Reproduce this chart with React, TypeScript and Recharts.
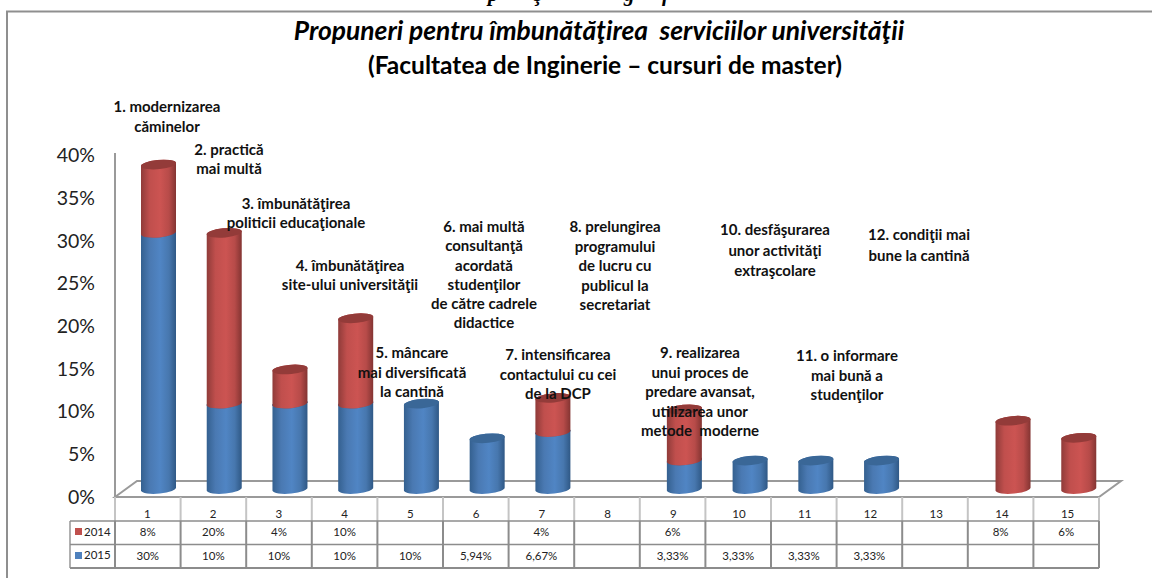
import { BarChart, Bar, XAxis, YAxis } from 'recharts'

const categories = ['1', '2', '3', '4', '5', '6', '7', '8', '9', '10', '11', '12', '13', '14', '15']
const values2014 = [8, 20, 4, 10, null, null, 4, null, 6, null, null, null, null, 8, 6]
const values2015 = [30, 10, 10, 10, 10, 5.94, 6.67, null, 3.33, 3.33, 3.33, 3.33, null, null, null]
const yTicks = [0, 5, 10, 15, 20, 25, 30, 35, 40]

const notes = [
  { lines: ['1. modernizarea', 'căminelor'], cx: 167, top: 96, lh: 20 },
  { lines: ['2. practică', 'mai multă'], cx: 229, top: 140, lh: 19 },
  { lines: ['3. îmbunătăţirea', 'politicii educaţionale'], cx: 296, top: 194, lh: 19 },
  { lines: ['4. îmbunătăţirea', 'site-ului universităţii'], cx: 350, top: 256, lh: 19 },
  { lines: ['5. mâncare', 'mai diversificată', 'la cantină'], cx: 412, top: 343, lh: 19.5 },
  { lines: ['6. mai multă', 'consultanţă', 'acordată', 'studenţilor', 'de către cadrele', 'didactice'], cx: 484, top: 217, lh: 19.3 },
  { lines: ['7. intensificarea', 'contactului cu cei', 'de la DCP'], cx: 558, top: 345, lh: 19.5 },
  { lines: ['8. prelungirea', 'programului', 'de lucru cu', 'publicul la', 'secretariat'], cx: 615, top: 217, lh: 19.5 },
  { lines: ['9. realizarea', 'unui proces de', 'predare avansat,', 'utilizarea unor', 'metode  moderne'], cx: 700, top: 343, lh: 19.5 },
  { lines: ['10. desfăşurarea', 'unor activităţi', 'extraşcolare'], cx: 775, top: 219, lh: 20.5 },
  { lines: ['11. o informare', 'mai bună a', 'studenţilor'], cx: 847, top: 346, lh: 19.5 },
  { lines: ['12. condiţii mai', 'bune la cantină'], cx: 919, top: 224, lh: 20.5 },
]

const chartData = categories.map((c, i) => ({ name: c, y2014: values2014[i], y2015: values2015[i] }))

const FONT = 'Lato, "Open Sans", sans-serif'
const TABLE_LEFT = 115
const COL_W = 65.6
const GRID = '#8c8c8c'

const fmt = (v: number | null) => (v == null ? '' : `${String(v).replace('.', ',')}%`)

function Cylinder({ x, y, width, height, gradient, cap }: any) {
  if (!height || height <= 0) return null
  const rx = width / 2
  const ry = 4.6
  const d = 1.8
  const rot = -5
  const x2 = x + width
  const bottom = y + height
  const body = `M${x},${y + d} L${x},${bottom + d} A${rx},${ry} ${rot} 0 0 ${x2},${bottom - d} L${x2},${y - d} A${rx},${ry} ${rot} 0 0 ${x},${y + d} Z`
  const top = `M${x},${y + d} A${rx},${ry} ${rot} 0 0 ${x2},${y - d} A${rx},${ry} ${rot} 0 0 ${x},${y + d} Z`
  return (
    <g>
      <path d={body} fill={`url(#${gradient})`} />
      <path d={top} fill={cap} />
    </g>
  )
}

function YTick({ y, payload }: any) {
  return (
    <text x={95} y={y + 8} dy="0.35em" textAnchor="end" fontSize={19.5} fontFamily={FONT} fill="#222">
      {payload.value}%
    </text>
  )
}

function XTick({ x, payload }: any) {
  return (
    <text x={x - 11.5} y={514} dy="0.35em" textAnchor="middle" fontSize={11.5} fontFamily={FONT} fill="#222">
      {payload.value}
    </text>
  )
}

function Frame() {
  const floorRight = TABLE_LEFT + COL_W * 15
  return (
    <svg width={1152} height={578} style={{ position: 'absolute', left: 0, top: 0 }}>
      <rect x={0} y={0} width={1152} height={578} fill="#fff" />
      <path d="M7,578 L7,11.5 L1152,11.5" fill="none" stroke="#8f8f8f" strokeWidth={2} />
      <line x1={115} y1={153} x2={115} y2={497} stroke="#9a9a9a" strokeWidth={2} />
      <path d={`M115,497 L137,481 L${floorRight + 22},481 L${floorRight},497 Z`} fill="#fff" stroke="#9a9a9a" strokeWidth={2} />
    </svg>
  )
}

function DataTable() {
  const right = TABLE_LEFT + COL_W * 15
  const textRow = (vals: (number | null)[], y: number) =>
    vals.map((v, i) => (
      <text key={i} x={TABLE_LEFT + COL_W * (i + 0.5)} y={y} dy="0.35em" textAnchor="middle" fontSize={11.5} fontFamily={FONT} fill="#222">
        {fmt(v)}
      </text>
    ))
  return (
    <svg width={1152} height={578} style={{ position: 'absolute', left: 0, top: 0, pointerEvents: 'none' }}>
      {categories.map((_, i) => (
        <line key={i} x1={TABLE_LEFT + COL_W * i} y1={497} x2={TABLE_LEFT + COL_W * i} y2={521} stroke="#c4c4c4" strokeWidth={2} />
      ))}
      <line x1={right} y1={497} x2={right} y2={521} stroke="#c4c4c4" strokeWidth={2} />
      {categories.map((_, i) => (
        <line key={i} x1={TABLE_LEFT + COL_W * i} y1={521} x2={TABLE_LEFT + COL_W * i} y2={568} stroke={GRID} strokeWidth={2} />
      ))}
      <line x1={right} y1={521} x2={right} y2={568} stroke={GRID} strokeWidth={2} />
      <line x1={70} y1={521} x2={70} y2={568} stroke="#b0b0b0" strokeWidth={2} />
      <line x1={70} y1={521} x2={right} y2={521} stroke={GRID} strokeWidth={1.5} />
      <line x1={70} y1={544.5} x2={right} y2={544.5} stroke={GRID} strokeWidth={1.5} />
      <line x1={70} y1={568} x2={right} y2={568} stroke={GRID} strokeWidth={2} />
      <rect x={75} y={528} width={7} height={7} fill="#c0504d" />
      <rect x={75} y={552} width={7} height={7} fill="#4f81bd" />
      <text x={84} y={532} dy="0.35em" fontSize={11.5} fontFamily={FONT} fill="#222">2014</text>
      <text x={84} y={555} dy="0.35em" fontSize={11.5} fontFamily={FONT} fill="#222">2015</text>
      {textRow(values2014, 532)}
      {textRow(values2015, 556)}
    </svg>
  )
}

export default function App() {
  return (
    <div style={{ position: 'absolute', left: 0, top: 0, width: 1152, height: 578, overflow: 'hidden', background: '#fff' }}>
      <Frame />
      <DataTable />
      <div style={{ position: 'absolute', left: 0, top: 0 }}>
        <BarChart width={1152} height={578} data={chartData} margin={{ top: 147.5, right: 40, bottom: 0, left: 0 }} barCategoryGap={0}>
          <defs>
            <linearGradient id="blueCyl" x1="0" y1="0" x2="1" y2="0">
              <stop offset="0%" stopColor="#34608f" />
              <stop offset="25%" stopColor="#4a79b2" />
              <stop offset="55%" stopColor="#5085c4" />
              <stop offset="80%" stopColor="#4777ae" />
              <stop offset="100%" stopColor="#2f5885" />
            </linearGradient>
            <linearGradient id="redCyl" x1="0" y1="0" x2="1" y2="0">
              <stop offset="0%" stopColor="#8f3b39" />
              <stop offset="25%" stopColor="#c04f4d" />
              <stop offset="55%" stopColor="#cc5452" />
              <stop offset="80%" stopColor="#b74b49" />
              <stop offset="100%" stopColor="#833432" />
            </linearGradient>
          </defs>
          <XAxis dataKey="name" axisLine={false} tickLine={false} interval={0} tick={<XTick />} height={89} />
          <YAxis width={126} domain={[0, 40]} ticks={yTicks} axisLine={false} tickLine={false} tick={<YTick />} interval={0} />
          <Bar dataKey="y2015" stackId="a" barSize={35} isAnimationActive={false}
            shape={(p: any) => <Cylinder {...p} gradient="blueCyl" cap="#3a6797" />} />
          <Bar dataKey="y2014" stackId="a" barSize={35} isAnimationActive={false}
            shape={(p: any) => <Cylinder {...p} gradient="redCyl" cap="#933b39" />} />
        </BarChart>
      </div>
      <div style={{ position: 'absolute', left: 0, top: -18, width: 1152, height: 24, overflow: 'visible', fontFamily: '"Liberation Serif", serif', fontWeight: 700, fontStyle: 'italic', fontSize: 21 }}>
        <span style={{ position: 'absolute', left: 488, top: 0 }}>p</span>
        <span style={{ position: 'absolute', left: 534, top: 0 }}>ş</span>
        <span style={{ position: 'absolute', left: 624, top: 0 }}>g</span>
        <span style={{ position: 'absolute', left: 662, top: 0 }}>f</span>
      </div>
      <div style={{ position: 'absolute', left: 0, width: 1198, top: 14, textAlign: 'center', fontFamily: FONT, fontSize: 26.4, fontWeight: 700, fontStyle: 'italic', color: '#000', whiteSpace: 'pre' }}>
        Propuneri pentru îmbunătăţirea  serviciilor universităţii
      </div>
      <div style={{ position: 'absolute', left: 0, width: 1210, top: 50, textAlign: 'center', fontFamily: FONT, fontSize: 24.5, fontWeight: 700, color: '#000' }}>
        (Facultatea de Inginerie – cursuri de master)
      </div>
      {notes.map((n, i) => (
        <div key={i} style={{ position: 'absolute', left: n.cx - 100, width: 200, top: n.top, textAlign: 'center', fontFamily: FONT, fontSize: 15, fontWeight: 700, lineHeight: `${n.lh}px`, color: '#111', whiteSpace: 'pre' }}>
          {n.lines.join('\n')}
        </div>
      ))}
    </div>
  )
}
